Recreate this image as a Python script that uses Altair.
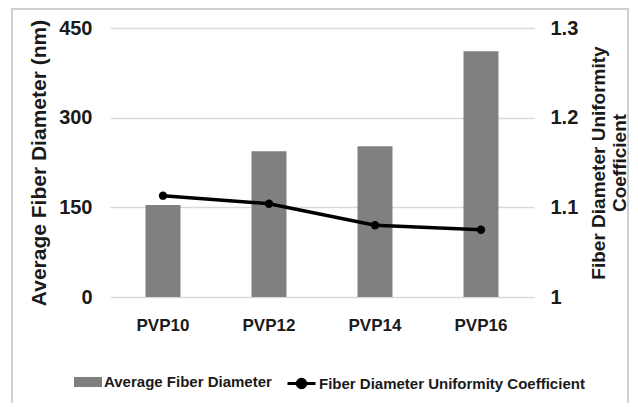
import altair as alt
import pandas as pd

categories = ["PVP10", "PVP12", "PVP14", "PVP16"]
diameter = [154, 244, 252, 411]
uniformity = [1.113, 1.104, 1.080, 1.075]
bar_series = "Average Fiber Diameter"
line_series = "Fiber Diameter Uniformity Coefficient"

df = pd.DataFrame({
    "cat": categories,
    "diam": diameter,
    "unif": uniformity,
    "s1": [bar_series] * 4,
    "s2": [line_series] * 4,
})

FONT = "Liberation Sans, Arial, sans-serif"
TXT = "#1a1a1a"

x = alt.X("cat:N", sort=categories, title=None,
          scale=alt.Scale(paddingInner=0.67, paddingOuter=0.335),
          axis=alt.Axis(labelAngle=0, labelFont=FONT, labelFontSize=17,
                        labelFontWeight="bold", labelColor=TXT, labelPadding=20,
                        ticks=False, domain=False, grid=False))

bars = alt.Chart(df).mark_bar(color="#808080").encode(
    x=x,
    y=alt.Y("diam:Q", scale=alt.Scale(domain=[0, 450]),
            axis=alt.Axis(values=[0, 150, 300, 450], title="Average Fiber Diameter (nm)",
                          titleFont=FONT, titleFontSize=21, titleFontWeight="bold",
                          titleColor=TXT, titlePadding=9, titleLimit=0,
                          labelFont=FONT, labelFontSize=20, labelFontWeight="bold",
                          labelColor=TXT, labelPadding=18,
                          ticks=False, domain=False, grid=True,
                          gridColor="#d9d9d9", gridWidth=1.3)),
    color=alt.Color("s1:N", scale=alt.Scale(range=["#808080"]),
                    legend=alt.Legend(orient="none", legendX=-36, legendY=340, title=None,
                                      labelFont=FONT, labelFontSize=15, labelLimit=0,
                                      labelFontWeight="bold", labelColor=TXT,
                                      symbolType="M-1,-0.36L1,-0.36L1,0.36L-1,0.36Z",
                                      symbolSize=784, symbolStrokeWidth=0,
                                      symbolOpacity=1, labelOffset=2)),
)

y_right = alt.Y("unif:Q", scale=alt.Scale(domain=[1, 1.3]),
                axis=alt.Axis(orient="right", values=[1, 1.1, 1.2, 1.3], format=".1~f",
                              title=["Fiber Diameter Uniformity", "Coefficient"],
                              titleFont=FONT, titleFontSize=19, titleFontWeight="bold",
                              titleColor=TXT, titlePadding=10, titleAngle=270, titleLimit=0,
                              titleLineHeight=21,
                              labelFont=FONT, labelFontSize=20, labelFontWeight="bold",
                              labelColor=TXT, labelPadding=16,
                              ticks=False, domain=False, grid=False))

line = alt.Chart(df).mark_line(color="black", strokeWidth=3.5).encode(
    x=x,
    y=y_right,
    stroke=alt.Stroke("s2:N", scale=alt.Scale(range=["black"]),
                      legend=alt.Legend(orient="none", legendX=176, legendY=340, title=None,
                                        labelFont=FONT, labelFontSize=15, labelLimit=0,
                                        labelFontWeight="bold", labelColor=TXT,
                                        symbolType="M-1,0L1,0M0.3,0A0.3,0.3 0 1,1 -0.3,0A0.3,0.3 0 1,1 0.3,0Z",
                                        symbolSize=784, symbolStrokeWidth=3,
                                        symbolFillColor="black", labelOffset=2)),
)

points = alt.Chart(df).mark_circle(color="black", size=70, opacity=1).encode(
    x=x,
    y=y_right,
)

frame = alt.Chart(df).mark_rect(fill=None, stroke="#d0d0d0", strokeWidth=1.5, clip=False).encode(
    x=alt.value(-98), x2=alt.value(518), y=alt.value(-19), y2=alt.value(420),
)

right = alt.layer(line, points)
chart = alt.layer(frame, bars, right).resolve_scale(
    y="independent", color="independent", stroke="independent"
).properties(
    width=424, height=269,
    autosize=alt.AutoSizeParams(type="none"),
    padding={"left": 102, "top": 20, "right": 96, "bottom": 106},
    background="white",
).configure_view(stroke=None)

chart.save("out.html", embed_options={"renderer": "svg", "actions": False})
